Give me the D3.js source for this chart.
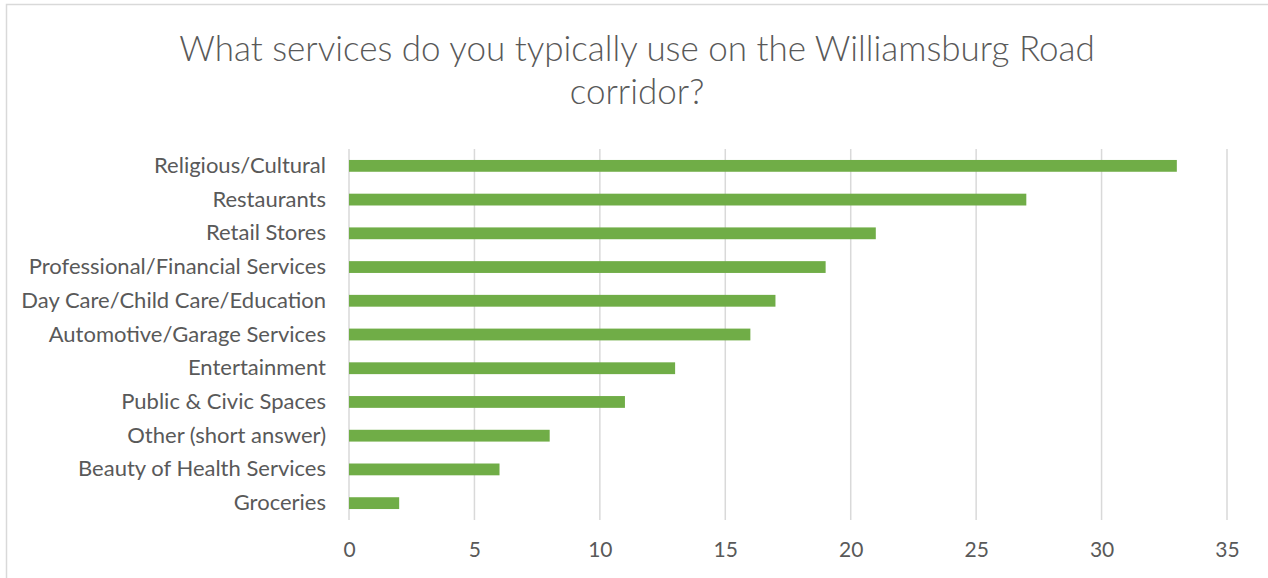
<!DOCTYPE html>
<html>
<head>
<meta charset="utf-8">
<script src="https://cdn.jsdelivr.net/npm/d3@7"></script>
<style>
  body { margin: 0; background: #fff; }
  text { font-family: Lato, "Open Sans", sans-serif; fill: #595959; }
</style>
</head>
<body>
<div id="chart"></div>
<script>
// Data
const categories = [
    "Religious/Cultural",
    "Restaurants",
    "Retail Stores",
    "Professional/Financial Services",
    "Day Care/Child Care/Education",
    "Automotive/Garage Services",
    "Entertainment",
    "Public & Civic Spaces",
    "Other (short answer)",
    "Beauty of Health Services",
    "Groceries"
];
const counts = [33, 27, 21, 19, 17, 16, 13, 11, 8, 6, 2];
const xTicks = [0, 5, 10, 15, 20, 25, 30, 35];
const titleLines = ["What services do you typically use on the Williamsburg Road", "corridor?"];

const W = 1268, H = 578;
const margin = {top: 149, right: 41, bottom: 58, left: 349};
const width = W - margin.left - margin.right;
const height = H - margin.top - margin.bottom;

const data = categories.map((c, i) => ({category: c, value: counts[i]}));

const svg = d3.select("#chart").append("svg")
    .attr("width", W)
    .attr("height", H);

// chart border
svg.append("rect")
    .attr("x", 6.5).attr("y", 4.5)
    .attr("width", W + 10).attr("height", H + 10)
    .attr("fill", "none")
    .attr("stroke", "#d9d9d9")
    .attr("stroke-width", 1.5);

// Title
svg.append("text")
    .attr("text-anchor", "middle")
    .attr("font-size", 35)
    .attr("font-weight", 300)
    .selectAll("tspan")
    .data(titleLines)
    .enter().append("tspan")
    .attr("x", 637)
    .attr("y", (d, i) => 61 + i * 43)
    .text(d => d);

const g = svg.append("g")
    .attr("transform", `translate(${margin.left},${margin.top})`);

const x = d3.scaleLinear().domain([0, 35]).range([0, width]);
const y = d3.scaleBand().domain(categories).range([0, height]).paddingInner(0.65).paddingOuter(0.325);

// gridlines
g.selectAll(".grid")
    .data(xTicks)
    .enter().append("line")
    .attr("class", "grid")
    .attr("x1", d => x(d)).attr("x2", d => x(d))
    .attr("y1", 0).attr("y2", height)
    .attr("stroke", "#d9d9d9")
    .attr("stroke-width", 1.5);

// bars
g.selectAll(".bar")
    .data(data)
    .enter().append("rect")
    .attr("class", "bar")
    .attr("x", 0)
    .attr("y", d => y(d.category))
    .attr("width", d => x(d.value))
    .attr("height", y.bandwidth())
    .attr("fill", "#70ad47");

// x axis labels
const xAxis = g.append("g")
    .attr("transform", `translate(0,${height})`)
    .call(d3.axisBottom(x).tickValues(xTicks).tickSize(0).tickPadding(22));
xAxis.select(".domain").remove();
xAxis.selectAll("text")
    .attr("font-size", 21)
    .attr("font-family", null);

// y axis labels
const yAxis = g.append("g")
    .call(d3.axisLeft(y).tickSize(0).tickPadding(23));
yAxis.select(".domain").remove();
yAxis.selectAll("text")
    .attr("font-size", 22)
    .attr("font-family", null);
</script>
</body>
</html>
